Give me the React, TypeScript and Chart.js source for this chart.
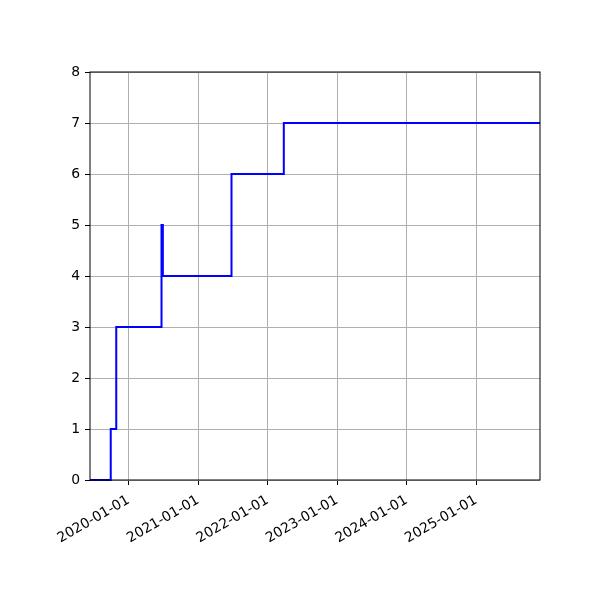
import { useEffect, useRef } from 'react'
import { Chart, registerables } from 'chart.js'

Chart.register(...registerables)

// change dates and the level held from each date on
const dates = [
  '2019-06-12', '2019-09-29', '2019-10-28', '2020-06-22',
  '2020-06-29', '2021-06-25', '2022-03-27', '2025-12-03',
]
const values = [0, 1, 3, 5, 4, 6, 7, 7]
const tickYears = [2020, 2021, 2022, 2023, 2024, 2025]
const yTicks = [0, 1, 2, 3, 4, 5, 6, 7, 8]

const font = { family: 'DejaVu Sans', size: 13.9 }

const frame = {
  id: 'frame',
  afterDraw(chart: Chart) {
    const { ctx, chartArea: a } = chart
    ctx.save()
    ctx.strokeStyle = '#000'
    ctx.lineWidth = 1
    ctx.strokeRect(a.left, a.top, a.right - a.left, a.bottom - a.top)
    ctx.restore()
  },
}

export default function App() {
  const canvasRef = useRef<HTMLCanvasElement>(null)

  useEffect(() => {
    document.body.style.margin = '0'
    const canvas = canvasRef.current
    if (!canvas) return
    const points = dates.map((d, i) => ({ x: Date.parse(d), y: values[i] }))
    const chart = new Chart(canvas, {
      type: 'line',
      data: {
        datasets: [{
          data: points,
          borderColor: '#0000ff',
          borderWidth: 2,
          stepped: 'before',
          pointRadius: 0,
          fill: false,
          clip: 4,
        }],
      },
      options: {
        responsive: false,
        animation: false,
        layout: { padding: { top: 72, right: 60, left: 0, bottom: 0 } },
        plugins: { legend: { display: false }, tooltip: { enabled: false } },
        scales: {
          x: {
            type: 'linear',
            min: points[0].x,
            max: points[points.length - 1].x,
            afterFit: (s: any) => { s.height = 120 },
            afterBuildTicks: (s: any) => {
              s.ticks = tickYears.map(y => ({ value: Date.UTC(y, 0, 1) }))
            },
            grid: { color: '#b0b0b0', lineWidth: 1, tickLength: 5, tickColor: '#000' },
            border: { display: false },
            ticks: {
              autoSkip: false,
              minRotation: 30,
              maxRotation: 30,
              padding: 7,
              color: '#000',
              font,
              callback: (v: any) => new Date(v).toISOString().slice(0, 10),
            },
          },
          y: {
            min: 0,
            max: 8,
            afterFit: (s: any) => { s.width = 90 },
            afterBuildTicks: (s: any) => { s.ticks = yTicks.map(v => ({ value: v })) },
            grid: { color: '#b0b0b0', lineWidth: 1, tickLength: 5, tickColor: '#000' },
            border: { display: false },
            ticks: { padding: 5, color: '#000', font },
          },
        },
      },
      plugins: [frame],
    })
    return () => chart.destroy()
  }, [])

  return (
    <div style={{ width: 600, height: 600 }}>
      <canvas ref={canvasRef} width={600} height={600} />
    </div>
  )
}
